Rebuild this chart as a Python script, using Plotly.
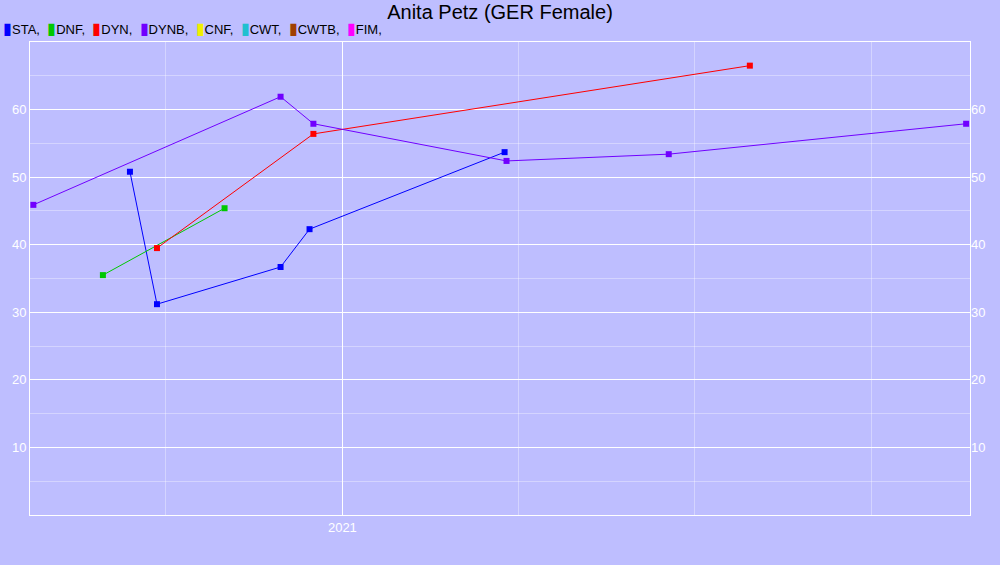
import plotly.graph_objects as go

# disciplinas y sus colores (como en la leyenda del original)
disciplinas = ["STA", "DNF", "DYN", "DYNB", "CNF", "CWT", "CWTB", "FIM"]
colores = ["#0000FF", "#00C800", "#FF0000", "#7000FF", "#F0F000", "#20C0D0", "#A04000", "#FF00FF"]

sta_fechas = ["2020-09-13", "2020-09-27", "2020-11-30", "2020-12-15", "2021-03-26"]
sta_valores = [50.8, 31.2, 36.7, 42.3, 53.7]

dnf_fechas = ["2020-08-30", "2020-11-01"]
dnf_valores = [35.5, 45.4]

dyn_fechas = ["2020-09-27", "2020-12-17", "2021-07-31"]
dyn_valores = [39.5, 56.4, 66.5]

dynb_fechas = ["2020-07-25", "2020-11-30", "2020-12-17", "2021-03-27", "2021-06-19", "2021-11-20"]
dynb_valores = [45.9, 61.9, 57.9, 52.4, 53.4, 57.9]

y_ticks = [10, 20, 30, 40, 50, 60]
# rejilla menor cada cuarto de año
x_menor = ["2020-10-01 12:00", "2021-04-02 06:00", "2021-07-02 12:00", "2021-10-01 18:00"]

series = [
    ("STA", sta_fechas, sta_valores),
    ("DNF", dnf_fechas, dnf_valores),
    ("DYN", dyn_fechas, dyn_valores),
    ("DYNB", dynb_fechas, dynb_valores),
]

fondo = "#BEBEFF"
fig = go.Figure()

for nombre, fechas, valores in series:
    color = colores[disciplinas.index(nombre)]
    fig.add_trace(go.Scatter(
        x=fechas, y=valores, mode="lines+markers", name=nombre,
        line=dict(color=color, width=1),
        marker=dict(symbol="square", size=6, color=color),
        showlegend=False,
    ))

# traza vacia para el eje derecho
fig.add_trace(go.Scatter(x=[None], y=[None], yaxis="y2", showlegend=False))

# leyenda como texto (mas compacta que la de plotly)
leyenda = "".join(
    "<span style='color:%s;font-size:16px'>▮</span>%s,  " % (c, d) for d, c in zip(disciplinas, colores)
)
fig.add_annotation(
    text=leyenda, xref="paper", yref="paper", x=-29 / 940, y=1 + 14 / 473,
    xanchor="left", yanchor="middle", showarrow=False,
    font=dict(family="Liberation Sans, Arial", size=13, color="black"),
)

grid_menor = "rgba(255,255,255,0.35)"
fig.update_layout(
    width=1000, height=565,
    paper_bgcolor=fondo, plot_bgcolor=fondo,
    margin=dict(l=30, r=30, t=42, b=50, autoexpand=False),
    font=dict(family="Liberation Sans, Arial", size=13, color="white"),
    title=dict(text="Anita Petz (GER Female)", x=0.5, xanchor="center",
               y=1 - 12 / 565, yanchor="middle",
               font=dict(size=20, color="black")),
    xaxis=dict(
        type="date", range=["2020-07-23 06:00", "2021-11-22"],
        dtick="M12", tick0="2021-01-01", tickformat="%Y",
        showgrid=True, gridcolor="white", gridwidth=1,
        minor=dict(tickmode="array", tickvals=x_menor, showgrid=True, gridcolor=grid_menor),
        showline=True, linecolor="white", linewidth=1, mirror=True,
        zeroline=False, ticks="", tickfont=dict(color="white"),
    ),
    yaxis=dict(
        range=[0, 70], tickvals=y_ticks,
        showgrid=True, gridcolor="white", gridwidth=1,
        minor=dict(dtick=5, tick0=5, showgrid=True, gridcolor=grid_menor),
        showline=True, linecolor="white", linewidth=1, mirror=True,
        zeroline=False, ticks="",
    ),
    yaxis2=dict(
        range=[0, 70], tickvals=y_ticks, overlaying="y", side="right",
        showgrid=False, zeroline=False, showline=False, ticks="",
    ),
)

# sin margen del body para que el grafico quede en 0,0
fig.write_html("out.html", config={"displayModeBar": False},
               post_script="document.body.style.margin='0';")
